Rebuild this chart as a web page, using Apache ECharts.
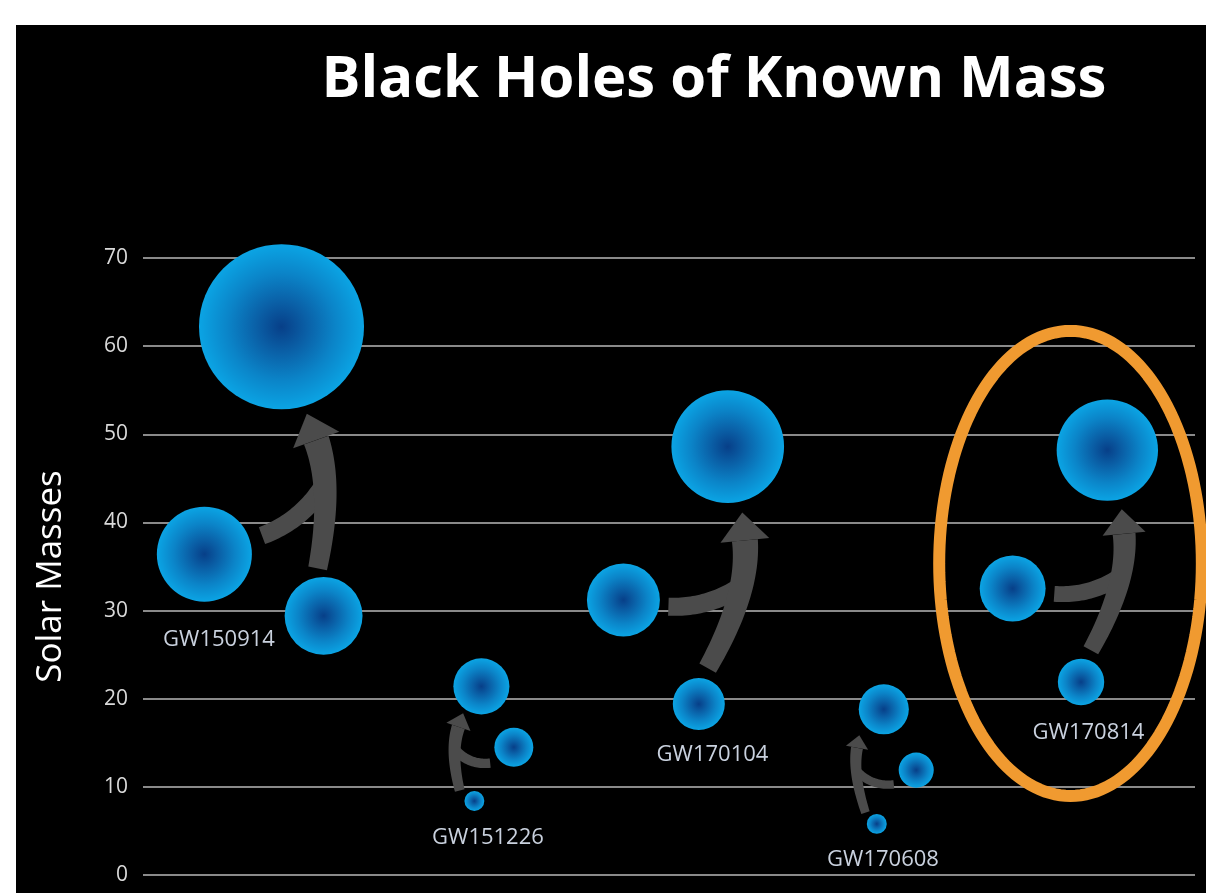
<!DOCTYPE html>
<html>
<head>
<meta charset="utf-8">
<title>Black Holes of Known Mass</title>
<script src="https://cdn.jsdelivr.net/npm/echarts@6/dist/echarts.min.js"></script>
<style>
  html, body { margin: 0; padding: 0; background: #ffffff; }
  #panel { position: absolute; left: 16px; top: 25px; width: 1190px; height: 868px; background: #000000; }
  #chart { width: 1190px; height: 868px; }
</style>
</head>
<body>
<div id="panel"><div id="chart"></div></div>
<script>
// ---- data ---------------------------------------------------------------
const events = ['GW150914', 'GW151226', 'GW170104', 'GW170608', 'GW170814'];

// masses (solar masses) of the two merging holes and the final hole
const primaryMass   = [36.4, 14.5, 31.2, 11.9, 32.5];
const secondaryMass = [29.4,  8.4, 19.4,  5.8, 21.9];
const finalMass     = [62.2, 21.4, 48.6, 18.8, 48.2];

// horizontal placement of each bubble along the hidden x scale (0..120)
const primaryX   = [ 7.0, 42.3, 54.8, 88.2,  99.2];
const secondaryX = [20.6, 37.8, 63.4, 83.7, 107.0];
const finalX     = [15.8, 38.6, 66.7, 84.5, 110.0];

// bubble radius, in y-axis units
const primaryR   = [5.39, 2.21, 4.14, 1.99, 3.74];
const secondaryR = [4.42, 1.13, 2.95, 1.13, 2.63];
const finalR     = [9.36, 3.18, 6.39, 2.84, 5.75];

// where each event name sits (x, y in axis units)
const labelX = [8.67, 39.35, 64.96, 84.41, 107.85];
const labelY = [26.72, 4.25, 13.67, 1.76, 16.17];

// y-axis ticks
const yTicks = [0, 10, 20, 30, 40, 50, 60, 70];

// highlighted event ring: centre and radii in axis units
const ringCenter = [105.8, 35.35];
const ringRadius = [14.98, 26.38];

// ---- styling -------------------------------------------------------------
const FONT = "'Open Sans', 'Noto Sans', sans-serif";
const ARROW = '#4b4b4b';
const arrowStyle = [
  { scale: 1.0,  srcRot: 0.02, tipRot: 0.15, bow: 17, branchRot: 0.22, gapS: 9,  gapT: 8,  gapB: 13, bbow: 14 },
  { scale: 0.52, srcRot: 1.6,  tipRot: 0.34, bow: 9,  branchRot: 0.63, gapS: 8,  gapT: 4,  gapB: 9,  bbow: 10 },
  { scale: 1.0,  srcRot: 0.13, tipRot: 0.28, bow: 20, branchRot: 0.27, gapS: 11, gapT: 11, gapB: 9,  bbow: 12 },
  { scale: 0.46, srcRot: 1.13, tipRot: 0.49, bow: 8,  branchRot: 0.63, gapS: 6,  gapT: 9,  gapB: 9,  bbow: 10 },
  { scale: 0.88, srcRot: 0.19, tipRot: 0.29, bow: 18, branchRot: 0.25, gapS: 10, gapT: 10, gapB: 9,  bbow: 12 }
];

// ---- small vector helpers --------------------------------------------------
function unit(v) { const l = Math.hypot(v[0], v[1]) || 1; return [v[0] / l, v[1] / l]; }
function add(a, b, k) { k = k === undefined ? 1 : k; return [a[0] + b[0] * k, a[1] + b[1] * k]; }
function sub(a, b) { return [a[0] - b[0], a[1] - b[1]]; }
function dot(a, b) { return a[0] * b[0] + a[1] * b[1]; }
// unit normal of d that points away from `other`, seen from `from`
function perpAway(d, from, other) {
  let n = [-d[1], d[0]];
  if (dot(n, sub(other, from)) > 0) n = [-n[0], -n[1]];
  return n;
}
function quad(p0, c, p1, t) {
  const a = (1 - t) * (1 - t), b = 2 * t * (1 - t), d = t * t;
  return [a * p0[0] + b * c[0] + d * p1[0], a * p0[1] + b * c[1] + d * p1[1]];
}
function quadTan(p0, c, p1, t) {
  return unit([2 * (1 - t) * (c[0] - p0[0]) + 2 * t * (p1[0] - c[0]),
               2 * (1 - t) * (c[1] - p0[1]) + 2 * t * (p1[1] - c[1])]);
}
// filled band that follows a quadratic curve, width going from w0 to w1
function band(p0, c, p1, w0, w1) {
  const n = 30, L = [], R = [];
  for (let i = 0; i <= n; i++) {
    const t = i / n;
    const p = quad(p0, c, p1, t);
    const tg = quadTan(p0, c, p1, t);
    const nn = [-tg[1], tg[0]];
    const w = (w0 + (w1 - w0) * t) / 2;
    L.push(add(p, nn, w));
    R.push(add(p, nn, -w));
  }
  return L.concat(R.reverse());
}

// ---- renderers ---------------------------------------------------------------
function renderArrow(params, api) {
  const i = api.value(2);
  const st = arrowStyle[i];
  const s = st.scale;
  const px = (x, y) => api.coord([x, y]);
  const rad = r => api.size([0, r])[1];

  const Sc = px(secondaryX[i], secondaryMass[i]), rs = rad(secondaryR[i]);
  const Bc = px(primaryX[i], primaryMass[i]),     rb = rad(primaryR[i]);
  const Tc = px(finalX[i], finalMass[i]),         rt = rad(finalR[i]);

  // main stem: from the lighter hole up to the final hole
  const u = unit(sub(Tc, Sc));
  const p = perpAway(u, Sc, Bc);
  const S = add(Sc, unit(add(u, p, st.srcRot)), rs + st.gapS);
  const tipDir = unit(add(unit(sub(S, Tc)), p, st.tipRot));
  const headLen = 28 * s, headBase = 49 * s;
  const H = add(Tc, tipDir, rt + st.gapT + headLen);
  const C = add(add(S, sub(H, S), 0.6), p, st.bow);
  const hd = unit(sub(H, C));
  const tip = add(H, hd, headLen);
  const hn = [-hd[1], hd[0]];

  // side branch: from the heavier hole into the stem
  const J = quad(S, C, H, 0.6);
  const d = unit(sub(J, Bc));
  const q = perpAway(d, Bc, Tc);
  const B = add(Bc, unit(add(d, q, st.branchRot)), rb + st.gapB);
  const bd = unit(sub(J, B));
  const bq = perpAway(bd, B, Tc);
  const BC = add(add(B, sub(J, B), 0.5), bq, st.bbow);

  return {
    type: 'group',
    children: [
      { type: 'polygon', shape: { points: band(B, BC, J, 18 * s, 19 * s) }, style: { fill: ARROW } },
      { type: 'polygon', shape: { points: band(S, C, H, 19 * s, 26 * s) }, style: { fill: ARROW } },
      { type: 'polygon', shape: { points: [tip, add(H, hn, headBase / 2), add(H, hn, -headBase / 2)] }, style: { fill: ARROW } }
    ]
  };
}

function renderBubble(params, api) {
  const c = api.coord([api.value(0), api.value(1)]);
  const r = api.size([0, api.value(2)])[1];
  return {
    type: 'circle',
    shape: { cx: c[0], cy: c[1], r: r },
    style: {
      fill: new echarts.graphic.RadialGradient(0.5, 0.5, 0.5, [
        { offset: 0,    color: '#073f88' },
        { offset: 0.3,  color: '#0a5fa6' },
        { offset: 0.65, color: '#0b84c8' },
        { offset: 1,    color: '#0ba4e4' }
      ])
    }
  };
}

function renderLabel(params, api) {
  const c = api.coord([api.value(0), api.value(1)]);
  return {
    type: 'text',
    x: c[0], y: c[1],
    style: {
      text: events[api.value(2)],
      fill: '#c9d1de',
      font: '22px ' + FONT,
      textAlign: 'center',
      textVerticalAlign: 'middle',
      verticalAlign: 'middle'
    }
  };
}

function renderRing(params, api) {
  const c = api.coord([api.value(0), api.value(1)]);
  const rx = api.size([ringRadius[0], 0])[0];
  const ry = api.size([0, ringRadius[1]])[1];
  const pts = [];
  for (let k = 0; k < 160; k++) {
    const a = (k / 160) * Math.PI * 2;
    pts.push([c[0] + rx * Math.cos(a), c[1] + ry * Math.sin(a)]);
  }
  return { type: 'polygon', shape: { points: pts }, style: { fill: null, stroke: '#f09a30', lineWidth: 12 } };
}

// ---- chart -------------------------------------------------------------------
const bubbleData = [];
events.forEach((e, i) => {
  bubbleData.push([primaryX[i], primaryMass[i], primaryR[i]]);
  bubbleData.push([secondaryX[i], secondaryMass[i], secondaryR[i]]);
  bubbleData.push([finalX[i], finalMass[i], finalR[i]]);
});

const chart = echarts.init(document.getElementById('chart'));
chart.setOption({
  animation: false,
  backgroundColor: 'transparent',
  title: {
    text: 'Black Holes of Known Mass',
    left: 693,
    top: 21,
    textAlign: 'center',
    textStyle: { color: '#ffffff', fontSize: 58, fontWeight: 'bold', fontFamily: FONT }
  },
  grid: { left: 127, right: 11, top: 233, bottom: 18 },
  xAxis: { type: 'value', min: 0, max: 120, show: false },
  yAxis: {
    type: 'value',
    min: yTicks[0],
    max: yTicks[yTicks.length - 1],
    interval: yTicks[1] - yTicks[0],
    name: 'Solar Masses',
    nameLocation: 'middle',
    nameRotate: 90,
    nameGap: 74,
    nameTextStyle: { color: '#ffffff', fontSize: 35, fontFamily: FONT, padding: [0, 20, 0, 0] },
    axisLine: { show: false },
    axisTick: { show: false },
    axisLabel: { color: '#d9d9d9', fontSize: 21, fontFamily: FONT, margin: 15 },
    splitLine: { lineStyle: { color: '#8a8a8a', width: 2 } }
  },
  series: [
    {
      type: 'custom', name: 'merger', renderItem: renderArrow, clip: false,
      encode: { x: 0, y: 1 },
      data: events.map((e, i) => [finalX[i], finalMass[i], i])
    },
    {
      type: 'custom', name: 'black holes', renderItem: renderBubble, clip: false,
      encode: { x: 0, y: 1 },
      data: bubbleData
    },
    {
      type: 'custom', name: 'events', renderItem: renderLabel, clip: false,
      encode: { x: 0, y: 1 },
      data: events.map((e, i) => [labelX[i], labelY[i], i])
    },
    {
      type: 'custom', name: 'highlight', renderItem: renderRing, clip: false,
      encode: { x: 0, y: 1 },
      data: [[ringCenter[0], ringCenter[1]]]
    }
  ]
});
</script>
</body>
</html>
